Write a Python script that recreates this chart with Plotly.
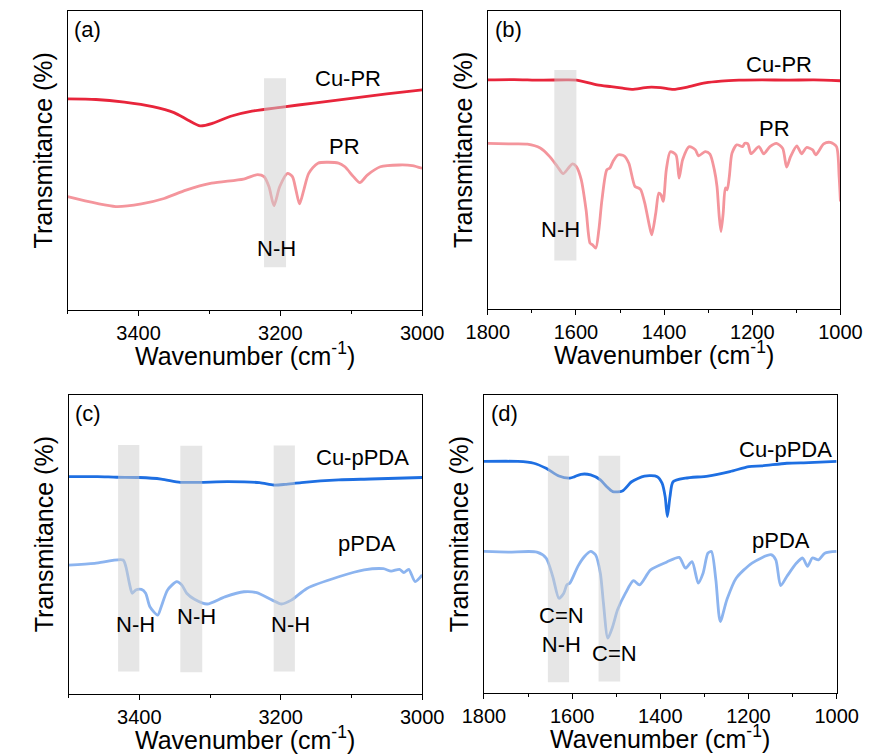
import plotly.graph_objects as go

# ---------------- data (wavenumber in cm^-1, transmittance offset, a.u.) ----------------
# (a) high-wavenumber region, PR vs Cu-PR
a_wn_cupr = [3500, 3460, 3420, 3380, 3350, 3330, 3313, 3295, 3270, 3240, 3200, 3150, 3100, 3050, 3000]
a_t_cupr = [70.6, 70.4, 69.5, 68.0, 66.0, 63.5, 61.6, 62.5, 64.8, 66.5, 67.8, 69.3, 70.8, 72.3, 73.6]

a_wn_pr = [3500, 3432, 3396, 3364, 3333, 3297, 3252, 3232, 3223, 3216, 3209, 3201, 3190, 3183, 3178,
           3173, 3167, 3160, 3147, 3118, 3109, 3097, 3088, 3077, 3059, 3032, 3014, 3000]
a_t_pr = [37.9, 34.6, 35.5, 37.3, 40.1, 42.4, 43.8, 45.3, 44.6, 41.2, 34.9, 41.2, 45.7, 44.6, 40.1,
          35.5, 40.1, 45.7, 49.1, 49.1, 47.9, 44.6, 42.6, 45.2, 47.9, 48.5, 48.3, 47.4]

# (b) fingerprint region, PR vs Cu-PR
b_wn_cupr = [1800, 1740, 1680, 1620, 1599, 1552, 1520, 1494, 1473, 1437, 1408, 1379, 1350, 1307, 1271,
             1230, 1178, 1120, 1060, 1000]
b_t_cupr = [76.9, 77.0, 76.8, 76.9, 76.8, 75.2, 74.6, 74.1, 73.7, 74.4, 74.3, 73.7, 74.4, 75.9, 76.5,
            76.8, 76.9, 76.8, 76.9, 76.6]

b_wn_pr = [1800, 1753, 1710, 1681, 1660, 1642, 1629, 1617, 1608, 1599, 1588, 1577, 1568, 1563, 1555,
           1548, 1541, 1530, 1523, 1516, 1505, 1491, 1480, 1466, 1458, 1453, 1444, 1433, 1428, 1419,
           1412, 1407, 1402, 1395, 1386, 1373, 1366, 1358, 1343, 1329, 1322, 1307, 1296, 1286, 1280,
           1275, 1271, 1266, 1261, 1257, 1252, 1246, 1235, 1222, 1217, 1210, 1203, 1185, 1174, 1160,
           1145, 1131, 1122, 1113, 1099, 1088, 1077, 1063, 1056, 1038, 1023, 1009, 1003, 1000]
b_t_pr = [55.6, 55.4, 55.3, 54.0, 51.2, 47.8, 45.4, 47.3, 48.7, 47.8, 43.4, 33.3, 22.1, 21.6, 20.4,
          26.6, 36.6, 46.7, 47.3, 49.5, 51.7, 51.4, 48.9, 41.1, 40.6, 40.0, 35.6, 27.7, 24.9, 32.1,
          38.9, 38.3, 36.1, 46.7, 52.8, 51.7, 43.9, 50.1, 54.5, 53.4, 51.4, 52.8, 52.0, 46.7, 41.1,
          31.1, 26.0, 32.1, 40.6, 40.0, 44.5, 52.3, 55.1, 54.5, 55.6, 55.4, 52.1, 54.5, 52.1, 54.5,
          55.6, 53.9, 47.6, 51.2, 54.7, 52.1, 54.2, 53.4, 51.7, 55.4, 55.9, 54.5, 44.5, 36.1]

# (c) high-wavenumber region, pPDA vs Cu-pPDA
c_wn_cupda = [3500, 3459, 3432, 3400, 3369, 3342, 3315, 3275, 3230, 3210, 3194, 3171, 3118, 3073, 3000]
c_t_cupda = [72.7, 72.7, 72.5, 72.4, 71.9, 70.8, 70.8, 71.0, 70.7, 69.9, 70.1, 70.7, 71.6, 71.9, 72.4]

c_wn_pda = [3500, 3463, 3423, 3419, 3414, 3410, 3405, 3397, 3391, 3385, 3374, 3369, 3360, 3347, 3340,
            3333, 3322, 3304, 3279, 3252, 3234, 3212, 3199, 3185, 3163, 3118, 3082, 3055, 3044, 3032,
            3026, 3019, 3010, 3000]
c_t_pda = [43.1, 43.7, 44.8, 42.6, 37.0, 33.7, 34.8, 35.0, 33.7, 29.2, 26.4, 29.2, 34.8, 37.6, 36.5,
           33.7, 31.7, 30.1, 32.5, 34.2, 33.9, 31.4, 30.1, 31.4, 35.3, 39.2, 41.5, 41.9, 41.1, 41.7,
           40.6, 41.7, 37.6, 39.8]

# (d) fingerprint region, pPDA vs Cu-pPDA
d_wn_cupda = [1800, 1723, 1687, 1659, 1630, 1605, 1594, 1580, 1558, 1536, 1522, 1508, 1486, 1465, 1436,
              1407, 1396, 1389, 1384, 1378, 1371, 1343, 1292, 1242, 1199, 1170, 1113, 1063, 1000]
d_t_cupda = [77.7, 77.7, 77.1, 75.4, 72.8, 72.1, 72.6, 73.4, 73.2, 71.5, 69.3, 67.6, 67.8, 70.9, 72.8,
             72.6, 70.4, 65.9, 59.2, 65.9, 70.9, 72.1, 72.8, 74.3, 76.0, 76.2, 77.1, 77.3, 77.7]

d_wn_pda = [1800, 1745, 1680, 1659, 1644, 1630, 1619, 1612, 1605, 1587, 1572, 1558, 1547, 1536, 1529,
            1519, 1508, 1497, 1479, 1461, 1447, 1422, 1386, 1357, 1343, 1328, 1314, 1303, 1292, 1284,
            1274, 1264, 1249, 1228, 1192, 1149, 1138, 1127, 1113, 1091, 1077, 1066, 1055, 1041, 1027,
            1000]
d_t_pda = [47.5, 47.3, 47.3, 45.3, 39.1, 31.8, 33.5, 36.3, 36.9, 42.5, 45.8, 47.5, 46.4, 40.2, 30.2,
           18.4, 22.3, 27.9, 33.5, 37.7, 36.3, 41.3, 43.9, 45.5, 41.9, 44.1, 36.9, 40.2, 46.9, 47.5,
           38.0, 24.0, 31.3, 38.5, 43.6, 46.4, 44.7, 36.0, 39.1, 43.6, 45.3, 42.5, 45.3, 44.7, 46.9,
           47.5]

# highlighted absorption windows: (wn_high, wn_low, t_bottom, t_top)
a_bands = [(3223, 3192, 14.3, 77.5)]
b_bands = [(1649, 1599, 16.3, 80.2)]
c_bands = [(3430, 3400, 7.5, 83.3), (3342, 3311, 7.3, 83.0), (3210, 3180, 7.5, 83.1)]
d_bands = [(1655, 1607, 3.6, 79.6), (1540, 1491, 3.9, 79.6)]

# text labels: (wn, t, text)
a_labels = [(3104, 77.3, "Cu-PR"), (3109, 54.6, "PR"), (3205, 20.6, "N-H")]
b_labels = [(1140, 82.1, "Cu-PR"), (1149, 60.7, "PR"), (1635, 26.6, "N-H")]
c_labels = [(3084, 79.2, "Cu-pPDA"), (3078, 50.4, "pPDA"), (3405, 23.1, "N-H"),
            (3319, 25.9, "N-H"), (3186, 23.1, "N-H")]
d_labels = [(1116, 81.6, "Cu-pPDA"), (1127, 51.1, "pPDA"), (1624, 21.2, "C=N<br>N-H"),
            (1504, 13.2, "C=N")]

panel_tags = ["(a)", "(b)", "(c)", "(d)"]
x_ranges = [(3500, 3000), (1800, 1000), (3500, 3000), (1800, 1000)]

RED = "#E8253B"
PINK = "#F4959C"
BLUE = "#1E6FE2"
LIGHTBLUE = "#8CB4EF"
FONT = "Arial, Liberation Sans, sans-serif"

W, H = 890, 755
# plot areas in pixels: (left, right, top, bottom)
boxes = [(48, 421, 11, 310), (490, 861, 11, 309), (49, 421, 395, 694), (486, 857, 395, 693)]

fig = go.Figure()

series = [
    [(a_wn_cupr, a_t_cupr, RED), (a_wn_pr, a_t_pr, PINK)],
    [(b_wn_cupr, b_t_cupr, RED), (b_wn_pr, b_t_pr, PINK)],
    [(c_wn_cupda, c_t_cupda, BLUE), (c_wn_pda, c_t_pda, LIGHTBLUE)],
    [(d_wn_cupda, d_t_cupda, BLUE), (d_wn_pda, d_t_pda, LIGHTBLUE)],
]
bands = [a_bands, b_bands, c_bands, d_bands]
labels = [a_labels, b_labels, c_labels, d_labels]

for i in range(4):
    n = "" if i == 0 else str(i + 1)
    xa, ya = "x" + n, "y" + n
    for wn, t, col in series[i]:
        fig.add_trace(go.Scatter(x=wn, y=t, mode="lines", xaxis=xa, yaxis=ya,
                                 line=dict(color=col, width=2.8, shape="spline", smoothing=0.7),
                                 showlegend=False, hoverinfo="skip"))
    for x0, x1, y0, y1 in bands[i]:
        fig.add_shape(type="rect", xref=xa, yref=ya, x0=x0, x1=x1, y0=y0, y1=y1,
                      fillcolor="rgba(205,205,205,0.5)", line=dict(width=0), layer="above")
    for x, y, txt in labels[i]:
        fig.add_annotation(x=x, y=y, xref=xa, yref=ya, text=txt, showarrow=False,
                           xanchor="center", yanchor="middle",
                           font=dict(family=FONT, size=22, color="black"))

    l, r, t, b = boxes[i]
    xdom = [l / W, r / W]
    ydom = [1 - b / H, 1 - t / H]
    lo, hi = x_ranges[i]
    fig.layout["xaxis" + n] = dict(
        domain=xdom, anchor=ya, range=[lo, hi], autorange=False,
        showline=True, mirror=True, linecolor="black", linewidth=1.3,
        ticks="outside", ticklen=5, tickwidth=1.2, tickcolor="black",
        dtick=200, tick0=0, showgrid=False, zeroline=False,
        tickfont=dict(family=FONT, size=20, color="black"),
        minor=dict(ticks="outside", ticklen=3, tickwidth=1.0, tickcolor="black", dtick=100),
    )
    fig.layout["yaxis" + n] = dict(
        domain=ydom, anchor=xa, range=[0, 100], autorange=False,
        showline=True, mirror=True, linecolor="black", linewidth=1.3,
        showticklabels=False, ticks="", showgrid=False, zeroline=False,
    )
    # panel tag
    fig.add_annotation(x=(l + 5) / W, y=1 - (t + 18) / H, xref="paper", yref="paper",
                       text=panel_tags[i], showarrow=False, xanchor="left", yanchor="middle",
                       font=dict(family=FONT, size=22, color="black"))
    # axis titles
    fig.add_annotation(x=(l + r) / 2 / W, y=1 - (b + 44) / H, xref="paper", yref="paper",
                       text="Wavenumber (cm<sup>-1</sup>)", showarrow=False,
                       xanchor="center", yanchor="middle",
                       font=dict(family=FONT, size=25, color="black"))
    fig.add_annotation(x=(l - 26) / W, y=1 - ((t + b) / 2 - 10) / H, xref="paper", yref="paper",
                       text="Transmitance (%)", showarrow=False, textangle=-90,
                       xanchor="center", yanchor="middle",
                       font=dict(family=FONT, size=25, color="black"))

fig.update_layout(width=W, height=H, margin=dict(l=0, r=0, t=0, b=0),
                  paper_bgcolor="white", plot_bgcolor="white")

fig.write_html("out.html")
